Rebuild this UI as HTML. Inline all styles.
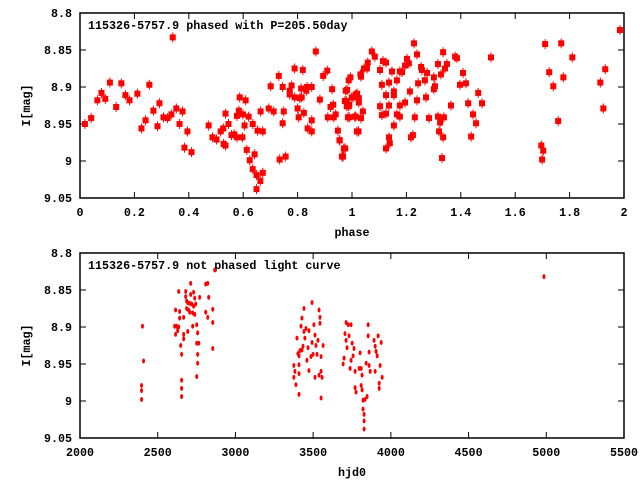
<!DOCTYPE html>
<html><head><meta charset="utf-8"><style>
html,body{margin:0;padding:0;background:#fff;}
svg{display:block;font-family:"Liberation Mono",monospace;font-weight:bold;font-size:11.7px;}
</style></head><body>
<svg id="chart" width="640" height="480" viewBox="0 0 640 480">
<rect x="0" y="0" width="640" height="480" fill="#fff"/>
<g id="top"></g>
<g id="bot"></g>
</svg>
<script>
const phaseVals=[0.018,0.041,0.064,0.079,0.093,0.110,0.133,0.152,0.167,0.182,0.211,0.226,0.241,0.255,0.270,0.285,0.292,0.307,0.322,0.336,0.341,0.354,0.366,0.377,0.384,0.395,0.410,0.473,0.487,0.502,0.517,0.527,0.528,0.535,0.535,0.546,0.557,0.567,0.577,0.587,0.577,0.584,0.597,0.599,0.605,0.609,0.613,0.620,0.624,0.635,0.635,0.642,0.649,0.653,0.649,0.663,0.664,0.672,0.672,0.694,0.701,0.712,0.731,0.734,0.745,0.745,0.749,0.756,0.771,0.771,0.778,0.789,0.789,0.800,0.804,0.808,0.813,0.815,0.819,0.823,0.835,0.832,0.837,0.852,0.852,0.852,0.867,0.882,0.894,0.909,0.911,0.921,0.927,0.931,0.933,0.940,0.948,0.955,0.967,0.975,0.979,0.982,0.990,0.990,0.994,1.004,1.014,1.019,1.024,1.031,
0.954,0.970,0.963,0.977,0.988,0.974,0.981,0.988,0.985,0.999,1.010,1.014,1.018,1.025,1.025,1.033,1.033,1.040,1.044,1.055,1.058,1.073,1.084,1.103,1.103,1.110,1.110,1.114,1.125,1.125,1.125,1.125,1.136,1.136,1.136,1.139,1.147,1.154,1.154,1.154,1.165,1.165,1.176,1.176,1.176,1.184,1.195,1.195,1.202,1.209,1.213,1.217,1.224,1.228,1.231,1.239,1.239,1.243,1.254,1.257,1.268,1.272,1.276,1.283,1.301,1.301,1.305,1.316,1.316,1.320,1.324,1.327,1.331,1.335,1.335,1.338,1.342,1.349,1.364,1.379,1.386,1.397,1.408,1.419,1.427,1.438,1.445,1.456,1.464,1.478,1.511,1.696,1.699,1.703,1.710,1.725,1.740,1.758,1.769,1.777,1.810,1.913,1.924,1.931,1.985];
const phaseMags=[8.950,8.942,8.918,8.908,8.916,8.894,8.927,8.895,8.911,8.918,8.909,8.956,8.945,8.897,8.932,8.953,8.922,8.941,8.942,8.937,8.833,8.929,8.950,8.933,8.982,8.960,8.988,8.952,8.968,8.971,8.960,8.956,8.977,8.979,8.936,8.950,8.965,8.964,8.968,8.914,8.939,8.932,8.968,8.937,8.952,8.918,8.985,8.940,8.999,8.950,9.011,8.991,9.019,8.959,9.038,9.027,8.933,8.960,9.016,8.929,8.899,8.933,8.885,8.998,8.900,8.949,8.933,8.994,8.905,8.910,8.898,8.875,8.914,8.929,8.941,8.915,8.902,8.914,8.877,8.935,8.900,8.905,8.956,8.900,8.945,8.960,8.852,8.917,8.885,8.878,8.941,8.927,8.903,8.924,8.941,8.937,8.959,8.972,8.994,8.983,8.919,8.904,8.924,8.941,8.887,8.914,8.940,8.909,8.960,8.883,
8.972,8.983,8.994,8.905,8.891,8.919,8.926,8.926,8.941,8.914,8.940,8.910,8.960,8.915,8.921,8.886,8.942,8.933,8.875,8.875,8.867,8.852,8.859,8.877,8.926,8.897,8.938,8.865,8.867,8.911,8.936,8.983,8.894,8.925,8.968,8.976,8.879,8.906,8.911,8.952,8.891,8.937,8.879,8.925,8.940,8.880,8.871,8.921,8.862,8.868,8.906,8.968,8.965,8.841,8.941,8.856,8.918,8.895,8.873,8.877,8.891,8.914,8.881,8.942,8.887,8.903,8.899,8.869,8.940,8.960,8.948,8.883,8.996,8.853,8.968,8.941,8.875,8.869,8.925,8.859,8.861,8.897,8.881,8.895,8.922,8.967,8.937,8.949,8.908,8.922,8.860,8.979,8.998,8.986,8.842,8.880,8.899,8.946,8.841,8.887,8.860,8.894,8.929,8.876,8.823];
const hjdVals=[2402,2409,2396,2396,2396,2635,2615,2641,2641,2609,2622,2635,2615,2628,2648,2654,2654,2654,2654,2667,2667,2667,2680,2680,2686,2686,2693,2693,2699,2706,2706,2712,2712,2719,2725,2725,2731,2731,2738,2738,2744,2751,2751,2757,2757,2764,2757,2751,2770,2809,2822,2809,2822,2828,2854,2854,2854,2867,
3376,3383,3376,3389,3396,3402,3409,3409,3409,3409,3415,3422,3428,3428,3435,3441,3441,3447,3454,3460,3467,3473,3473,3486,3493,3493,3499,3505,3512,3512,3518,3525,3531,3538,3538,3544,3544,3551,3551,3551,3557,3564,
3693,3699,3705,3712,3712,3718,3725,3731,3738,3744,3744,3751,3757,3763,3770,3770,3776,3796,3802,3809,3809,3815,3815,3821,3821,3828,3828,3828,3834,3841,3847,3854,3854,3860,3860,3867,3892,3899,3899,3905,3912,3918,3925,3925,3931,3938,3944,4985];
const hjdMags=[8.899,8.946,8.979,8.986,8.998,8.852,8.877,8.879,8.888,8.899,8.899,8.900,8.910,8.905,8.925,8.937,8.972,8.983,8.994,8.887,8.910,8.916,8.852,8.859,8.865,8.875,8.867,8.906,8.877,8.868,8.880,8.841,8.856,8.869,8.881,8.899,8.853,8.872,8.861,8.883,8.869,8.897,8.922,8.908,8.937,8.922,8.949,8.967,8.860,8.842,8.841,8.880,8.887,8.860,8.876,8.894,8.929,8.823,
8.952,8.960,8.968,8.978,8.915,8.936,8.939,8.951,8.963,8.991,8.932,8.899,8.888,8.931,8.926,8.875,8.906,8.915,8.902,8.945,8.928,8.959,8.905,8.940,8.867,8.921,8.937,8.897,8.911,8.968,8.925,8.937,8.918,8.877,8.965,8.887,8.895,8.940,8.960,8.996,8.968,8.925,
8.950,8.942,8.909,8.894,8.918,8.928,8.897,8.912,8.956,8.897,8.945,8.922,8.939,8.929,8.960,8.982,8.988,8.956,8.935,8.956,8.979,8.965,8.985,8.999,9.011,9.018,9.027,9.038,8.998,8.949,8.994,8.897,8.912,8.934,8.952,8.960,8.918,8.960,8.926,8.933,8.939,8.912,8.976,8.983,8.952,8.921,8.968,8.832];
const yTicks=[8.8,8.85,8.9,8.95,9,9.05];
const yTickLabels=["8.8","8.85","8.9","8.95","9","9.05"];
const phaseTicks=[0,0.2,0.4,0.6,0.8,1,1.2,1.4,1.6,1.8,2];
const phaseTickLabels=["0","0.2","0.4","0.6","0.8","1","1.2","1.4","1.6","1.8","2"];
const hjdTicks=[2000,2500,3000,3500,4000,4500,5000,5500];
const hjdTickLabels=["2000","2500","3000","3500","4000","4500","5000","5500"];

const NS="http://www.w3.org/2000/svg";
function mk(parent,tag,attrs,text){const e=document.createElementNS(NS,tag);for(const k in attrs)e.setAttribute(k,attrs[k]);if(text!==undefined)e.textContent=text;parent.appendChild(e);return e;}
const L=80,R=624;
function panel(g,top,bottom,xmin,xmax,xt,xtl,xs,ys,title,xlabel,marker){
  const sx=v=>L+(v-xmin)/(xmax-xmin)*(R-L);
  const sy=v=>top+(v-8.8)/0.25*(bottom-top);
  const frame=mk(g,'rect',{x:L,y:top,width:R-L,height:bottom-top,fill:'none',stroke:'#000','stroke-width':1.5});
  
  
  yTicks.forEach((v,i)=>{const y=sy(v);
    mk(g,'line',{x1:L,x2:L+6,y1:y,y2:y,stroke:'#000'});mk(g,'line',{x1:R-6,x2:R,y1:y,y2:y,stroke:'#000'});
    const t=mk(g,'text',{x:L-8,y:y+4,'text-anchor':'end'},yTickLabels[i]);
    
    });
  xt.forEach((v,i)=>{const x=sx(v);
    mk(g,'line',{x1:x,x2:x,y1:bottom,y2:bottom-6,stroke:'#000'});mk(g,'line',{x1:x,x2:x,y1:top,y2:top+6,stroke:'#000'});
    const t=mk(g,'text',{x:x,y:bottom+18,'text-anchor':'middle'},xtl[i]);
    
    });
  const yl=mk(g,'text',{x:30,y:(top+bottom)/2,'text-anchor':'middle',transform:`rotate(-90 30 ${(top+bottom)/2})`},'I[mag]');
  
  
  const xl=mk(g,'text',{x:352,y:bottom+38,'text-anchor':'middle'},xlabel);
  
  
  const tt=mk(g,'text',{x:88,y:top+16},title);
  
  
  xs.forEach((v,i)=>{const x=sx(v),y=sy(ys[i]);let p;
    if(marker==='sq'){mk(g,'line',{x1:x,x2:x,y1:y-5,y2:y+5,stroke:'#f00'});p=mk(g,'rect',{x:x-3,y:y-3,width:6,height:6,fill:'#f00'});}
    else{p=mk(g,'ellipse',{cx:x,cy:y,rx:1.5,ry:2.5,fill:'#f00'});}
    
    });
}
panel(document.getElementById('top'),13,198,0,2,phaseTicks,phaseTickLabels,phaseVals,phaseMags,'115326-5757.9 phased with P=205.50day','phase','sq');
panel(document.getElementById('bot'),253,438,2000,5500,hjdTicks,hjdTickLabels,hjdVals,hjdMags,'115326-5757.9 not phased light curve','hjd0','dot');
</script>
</body></html>
